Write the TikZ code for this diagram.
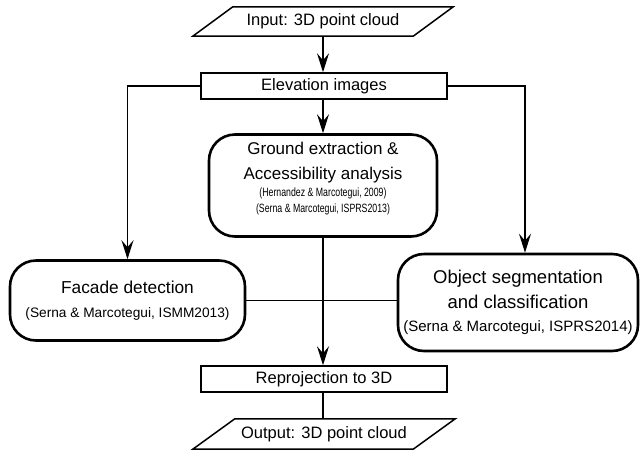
\documentclass[tikz,border=0pt]{standalone}
\usepackage{fontspec}
\usepackage{graphicx}
\setmainfont{Liberation Sans}
\usetikzlibrary{arrows.meta}
\newcommand\gsubtext[1]{{\fontsize{12}{16}\selectfont\scalebox{0.73}[1]{#1}}}
\begin{document}
\begin{tikzpicture}[x=1pt,y=-1pt,
  conn/.style={line width=1.2pt},
  arr/.style={conn,-{Stealth[length=19pt,width=12pt,inset=7pt]}},
  paratext/.style={inner sep=0pt, minimum width=220pt, font=\fontsize{16.5}{19}\selectfont},
  paraline/.style={draw, line width=1.5pt, line join=miter},
  rectbox/.style={draw, line width=1.5pt, minimum width=246pt, minimum height=26pt, inner sep=0pt, font=\fontsize{16.5}{19}\selectfont},
  roundbox/.style={draw, line width=2.6pt, rounded corners=26pt, inner sep=0pt, align=center}
]
\useasboundingbox (0,0) rectangle (641,451);
\fill[white] (0,0) rectangle (641,451);

% nodes
\node[paratext, minimum height=29pt] (in) at (323,21.5) {Input: 3D point cloud};
\draw[paraline] ([xshift=20pt]in.north west) -- ([xshift=20pt]in.north east) -- ([xshift=-20pt]in.south east) -- ([xshift=-20pt]in.south west) -- cycle;

\node[rectbox] (elev) at (324,86) {Elevation images};

\node[roundbox, minimum width=228pt, minimum height=102pt, font=\fontsize{17}{25}\selectfont] (ground) at (323,185.5)
  {Ground extraction \&\\Accessibility analysis\\[-8pt]
   \gsubtext{(Hernandez \& Marcotegui, 2009)}\\[-9pt]
   \gsubtext{(Serna \& Marcotegui, ISPRS2013)}\rule[-16pt]{0pt}{0pt}};

\node[roundbox, minimum width=235pt, minimum height=80pt, font=\fontsize{17.3}{24}\selectfont] (facade) at (127.5,300.5)
  {Facade detection\\{\fontsize{13.7}{16}\selectfont (Serna \& Marcotegui, ISMM2013)}};

\node[roundbox, minimum width=240pt, minimum height=97pt, font=\fontsize{18.5}{25}\selectfont] (object) at (518,302.5)
  {Object segmentation\\and classification\\[-2pt]{\fontsize{15}{18}\selectfont (Serna \& Marcotegui, ISPRS2014)}};

\node[rectbox] (reproj) at (324,379) {Reprojection to 3D};

\node[paratext, minimum height=30pt] (out) at (324,434) {Output: 3D point cloud};
\draw[paraline] ([xshift=21pt]out.north west) -- ([xshift=21pt]out.north east) -- ([xshift=-21pt]out.south east) -- ([xshift=-21pt]out.south west) -- cycle;

% connectors
\draw[arr] (in.south -| ground.north) -- (elev.north -| ground.north);
\draw[arr] (elev.west) -| (facade.north);
\draw[arr] (elev.east) -| ([xshift=7pt]object.north);
\draw[arr] (elev.south -| ground.north) -- (ground.north);
\draw[conn] (facade.east) -- (object.west |- facade.east);
\draw[arr] (ground.south) -- (reproj.north -| ground.south);
\draw[conn] (reproj.south -| ground.south) -- (out.north -| ground.south);
\end{tikzpicture}
\end{document}
